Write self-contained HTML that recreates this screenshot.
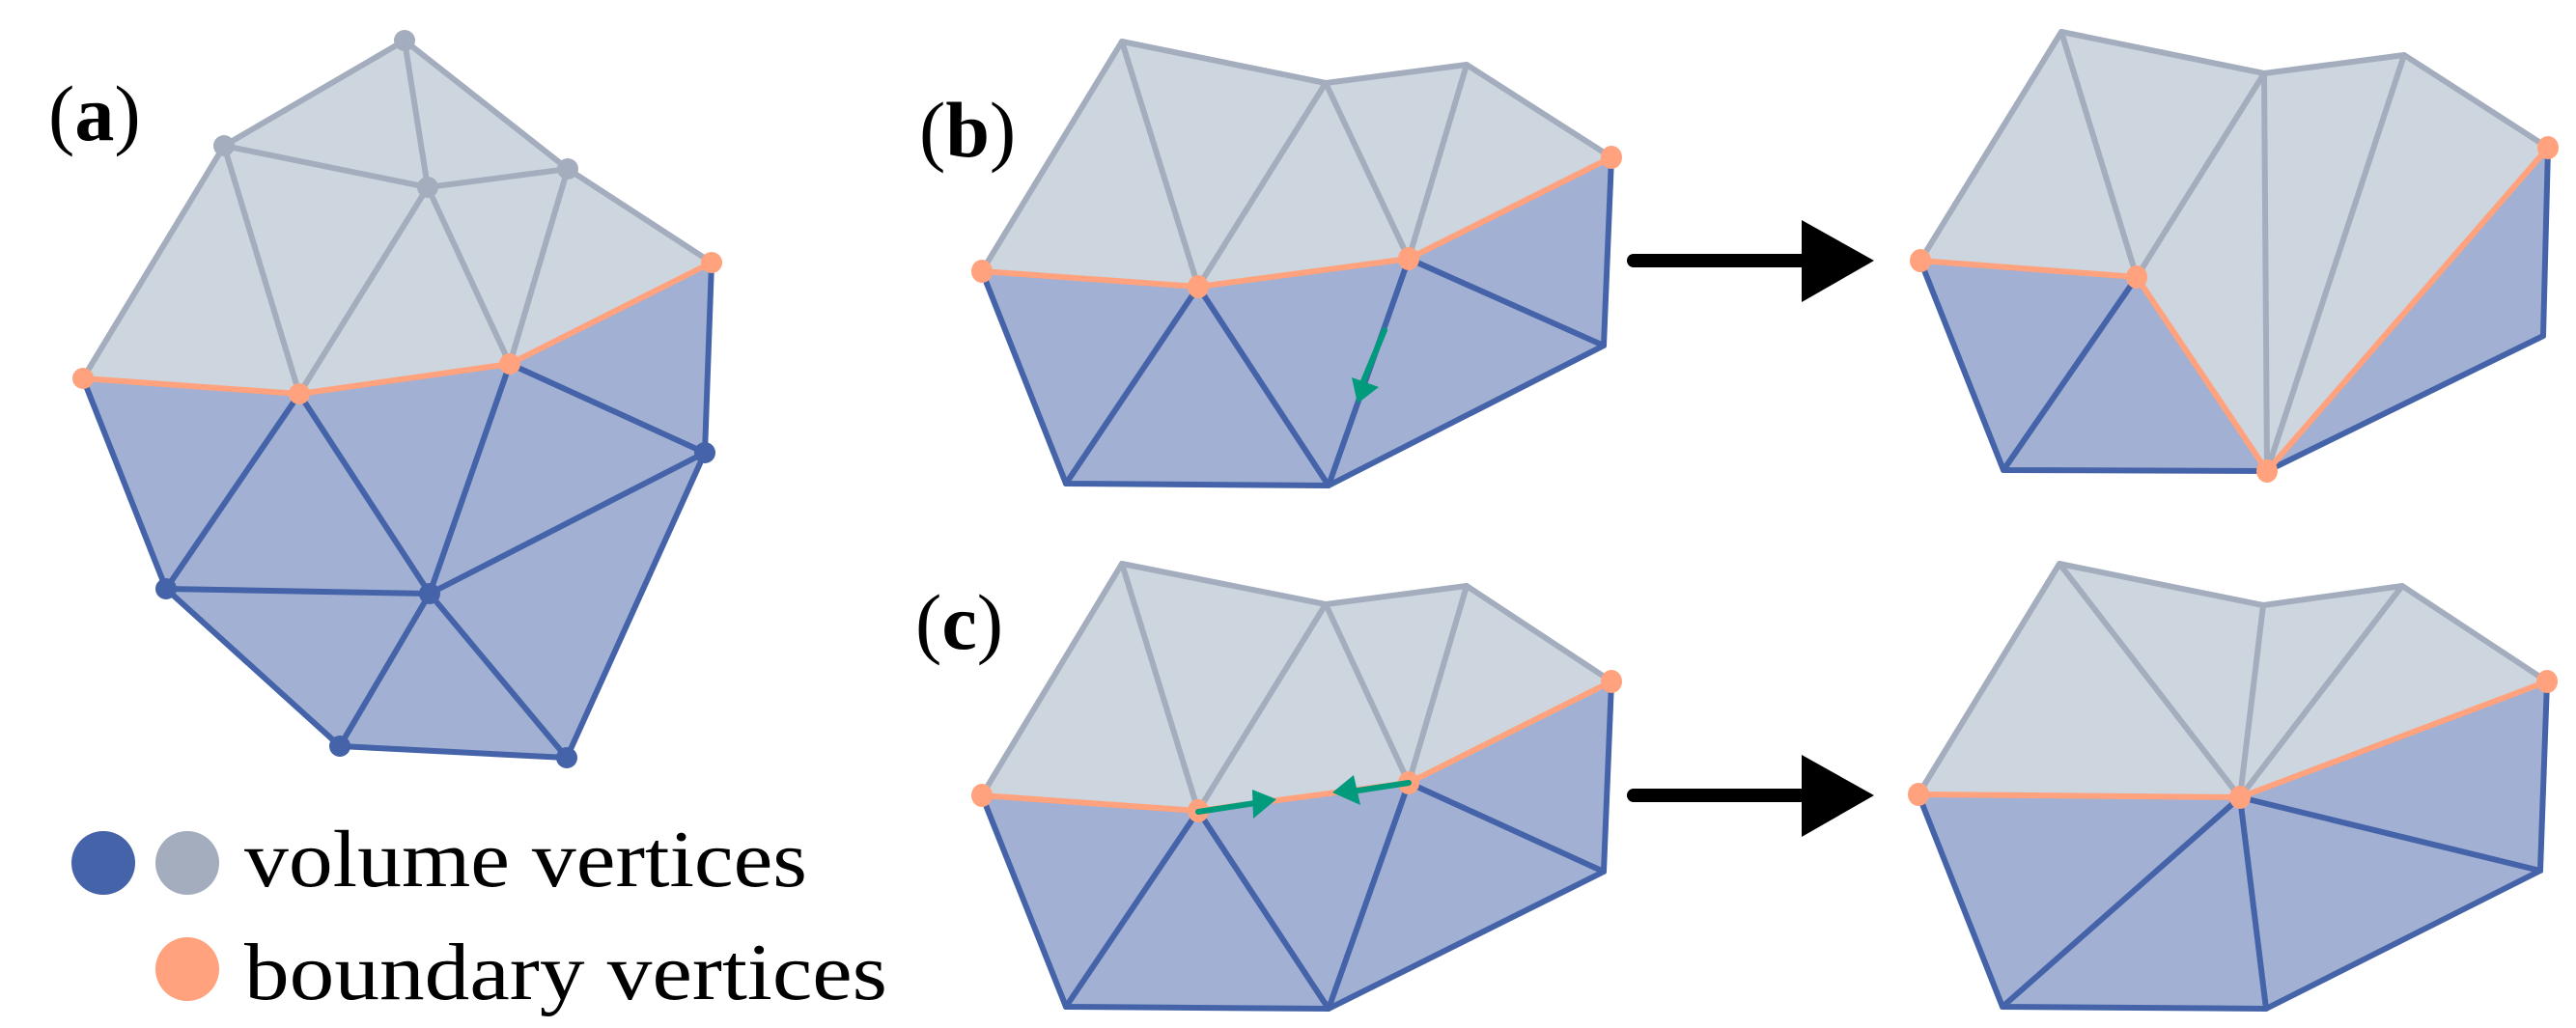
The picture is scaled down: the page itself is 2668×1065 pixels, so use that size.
<!DOCTYPE html>
<html><head><meta charset="utf-8"><style>html,body{margin:0;padding:0;background:#fff}svg{display:block}</style></head>
<body>
<svg width="2668" height="1065" viewBox="0 0 2668 1065" xmlns="http://www.w3.org/2000/svg">
<g stroke-linejoin="round" stroke-linecap="round">
<!-- Panel a -->
<polygon points="86,392 232,151 419,42 588,175 737,272 528,377 310,408" fill="#cdd5de"/>
<polygon points="86,392 310,408 528,377 737,272 730,469 587,785 352,773 172,610" fill="#a2b0d3"/>
<g stroke="#a3adbd" stroke-width="6" fill="none">
<polyline points="86,392 232,151 419,42 588,175 737,272"/>
<line x1="232" y1="151" x2="443" y2="194"/><line x1="419" y1="42" x2="443" y2="194"/><line x1="443" y1="194" x2="588" y2="175"/>
<line x1="232" y1="151" x2="310" y2="408"/><line x1="443" y1="194" x2="310" y2="408"/><line x1="443" y1="194" x2="528" y2="377"/><line x1="588" y1="175" x2="528" y2="377"/>
</g>
<g stroke="#4563a8" stroke-width="6" fill="none">
<polyline points="86,392 172,610 352,773 587,785 730,469 737,272"/>
<line x1="172" y1="610" x2="445" y2="615"/><line x1="310" y1="408" x2="172" y2="610"/><line x1="310" y1="408" x2="445" y2="615"/>
<line x1="528" y1="377" x2="445" y2="615"/><line x1="528" y1="377" x2="730" y2="469"/><line x1="445" y1="615" x2="730" y2="469"/>
<line x1="445" y1="615" x2="352" y2="773"/><line x1="445" y1="615" x2="587" y2="785"/>
</g>
<polyline points="86,392 310,408 528,377 737,272" stroke="#ffa27d" stroke-width="6" fill="none"/>
<g fill="#a3adbd"><circle cx="419" cy="42" r="11"/><circle cx="232" cy="151" r="11"/><circle cx="443" cy="194" r="11"/><circle cx="588" cy="175" r="11"/></g>
<g fill="#ffa27d"><circle cx="737" cy="272" r="11"/><circle cx="86" cy="392" r="11"/><circle cx="310" cy="408" r="11"/><circle cx="528" cy="377" r="11"/></g>
<g fill="#4563a8"><circle cx="730" cy="469" r="11"/><circle cx="172" cy="610" r="11"/><circle cx="445" cy="615" r="11"/><circle cx="352" cy="773" r="11"/><circle cx="587" cy="785" r="11"/></g>

<!-- Panel b left -->
<polygon points="1017,281 1162,43 1373,86 1519,67 1669,163 1459,268 1241,297" fill="#cdd5de"/>
<polygon points="1017,281 1241,297 1459,268 1669,163 1661,358 1376,503 1104,501" fill="#a2b0d3"/>
<g stroke="#a3adbd" stroke-width="6" fill="none">
<polyline points="1017,281 1162,43 1373,86 1519,67 1669,163"/>
<line x1="1162" y1="43" x2="1241" y2="297"/><line x1="1373" y1="86" x2="1241" y2="297"/><line x1="1373" y1="86" x2="1459" y2="268"/><line x1="1519" y1="67" x2="1459" y2="268"/>
</g>
<g stroke="#4563a8" stroke-width="6" fill="none">
<polyline points="1017,281 1104,501 1376,503 1661,358 1669,163"/>
<line x1="1241" y1="297" x2="1104" y2="501"/><line x1="1241" y1="297" x2="1376" y2="503"/><line x1="1459" y1="268" x2="1376" y2="503"/><line x1="1459" y1="268" x2="1661" y2="358"/>
</g>
<polyline points="1017,281 1241,297 1459,268 1669,163" stroke="#ffa27d" stroke-width="6" fill="none"/>
<g fill="#ffa27d"><ellipse cx="1017" cy="281" rx="11" ry="12"/><ellipse cx="1241" cy="297" rx="11" ry="12"/><ellipse cx="1459" cy="268" rx="11" ry="12"/><ellipse cx="1669" cy="163" rx="11" ry="12"/></g>
<line x1="1434" y1="342" x2="1412" y2="395" stroke="#009a7c" stroke-width="6"/>
<polygon points="1400,391 1428,401 1406,418" fill="#009a7c"/>

<!-- arrow b -->
<line x1="1692" y1="270" x2="1875" y2="270" stroke="#000" stroke-width="14"/>
<polygon points="1866,228 1866,313 1941,270" fill="#000"/>

<!-- Panel b right -->
<polygon points="1989,270 2135,33 2345,76 2490,57 2639,153 2348,488 2213,287" fill="#cdd5de"/>
<polygon points="1989,270 2213,287 2348,488 2075,487" fill="#a2b0d3"/>
<polygon points="2348,488 2639,153 2634,348" fill="#a2b0d3"/>
<g stroke="#a3adbd" stroke-width="6" fill="none">
<polyline points="1989,270 2135,33 2345,76 2490,57 2639,153"/>
<line x1="2135" y1="33" x2="2213" y2="287"/><line x1="2345" y1="76" x2="2213" y2="287"/><line x1="2345" y1="76" x2="2348" y2="488"/><line x1="2490" y1="57" x2="2348" y2="488"/>
</g>
<g stroke="#4563a8" stroke-width="6" fill="none">
<polyline points="1989,270 2075,487 2348,488 2634,348 2639,153"/>
<line x1="2213" y1="287" x2="2075" y2="487"/>
</g>
<polyline points="1989,270 2213,287 2348,488 2639,153" stroke="#ffa27d" stroke-width="6" fill="none"/>
<g fill="#ffa27d"><ellipse cx="1989" cy="270" rx="11" ry="12"/><ellipse cx="2213" cy="287" rx="11" ry="12"/><ellipse cx="2348" cy="488" rx="11" ry="12"/><ellipse cx="2639" cy="153" rx="11" ry="12"/></g>

<!-- Panel c left -->
<polygon points="1017,824 1162,584 1373,626 1519,607 1669,706 1459,811 1241,840" fill="#cdd5de"/>
<polygon points="1017,824 1241,840 1459,811 1669,706 1661,903 1376,1045 1104,1043" fill="#a2b0d3"/>
<g stroke="#a3adbd" stroke-width="6" fill="none">
<polyline points="1017,824 1162,584 1373,626 1519,607 1669,706"/>
<line x1="1162" y1="584" x2="1241" y2="840"/><line x1="1373" y1="626" x2="1241" y2="840"/><line x1="1373" y1="626" x2="1459" y2="811"/><line x1="1519" y1="607" x2="1459" y2="811"/>
</g>
<g stroke="#4563a8" stroke-width="6" fill="none">
<polyline points="1017,824 1104,1043 1376,1045 1661,903 1669,706"/>
<line x1="1241" y1="840" x2="1104" y2="1043"/><line x1="1241" y1="840" x2="1376" y2="1045"/><line x1="1459" y1="811" x2="1376" y2="1045"/><line x1="1459" y1="811" x2="1661" y2="903"/>
</g>
<polyline points="1017,824 1241,840 1459,811 1669,706" stroke="#ffa27d" stroke-width="6" fill="none"/>
<g fill="#ffa27d"><ellipse cx="1017" cy="824" rx="11" ry="12"/><ellipse cx="1241" cy="840" rx="11" ry="12"/><ellipse cx="1459" cy="811" rx="11" ry="12"/><ellipse cx="1669" cy="706" rx="11" ry="12"/></g>
<line x1="1241" y1="841" x2="1300" y2="832" stroke="#009a7c" stroke-width="6"/>
<polygon points="1297,818 1298,848 1322,828" fill="#009a7c"/>
<line x1="1459" y1="811" x2="1400" y2="820" stroke="#009a7c" stroke-width="6"/>
<polygon points="1402,803 1409,834 1380,821" fill="#009a7c"/>

<!-- arrow c -->
<line x1="1692" y1="824" x2="1875" y2="824" stroke="#000" stroke-width="14"/>
<polygon points="1866,782 1866,867 1941,824" fill="#000"/>

<!-- Panel c right -->
<polygon points="1987,823 2133,584 2344,627 2488,607 2638,706 2320,826" fill="#cdd5de"/>
<polygon points="1987,823 2320,826 2638,706 2631,902 2347,1045 2074,1043" fill="#a2b0d3"/>
<g stroke="#a3adbd" stroke-width="6" fill="none">
<polyline points="1987,823 2133,584 2344,627 2488,607 2638,706"/>
<line x1="2133" y1="584" x2="2320" y2="826"/><line x1="2344" y1="627" x2="2320" y2="826"/><line x1="2488" y1="607" x2="2320" y2="826"/>
</g>
<g stroke="#4563a8" stroke-width="6" fill="none">
<polyline points="1987,823 2074,1043 2347,1045 2631,902 2638,706"/>
<line x1="2320" y1="826" x2="2074" y2="1043"/><line x1="2320" y1="826" x2="2347" y2="1045"/><line x1="2320" y1="826" x2="2631" y2="902"/>
</g>
<polyline points="1987,823 2320,826 2638,706" stroke="#ffa27d" stroke-width="6" fill="none"/>
<g fill="#ffa27d"><ellipse cx="1987" cy="823" rx="11" ry="12"/><ellipse cx="2320" cy="826" rx="11" ry="12"/><ellipse cx="2638" cy="706" rx="11" ry="12"/></g>
</g>

<!-- Labels -->
<g font-family="'Liberation Serif', serif" fill="#000">
<text x="50" y="145" font-size="82"><tspan>(</tspan><tspan font-weight="bold">a</tspan><tspan>)</tspan></text>
<text x="952" y="162" font-size="82"><tspan>(</tspan><tspan font-weight="bold">b</tspan><tspan>)</tspan></text>
<text x="948" y="672" font-size="82"><tspan>(</tspan><tspan font-weight="bold">c</tspan><tspan>)</tspan></text>
<text x="253" y="918" font-size="84" textLength="583" lengthAdjust="spacingAndGlyphs">volume vertices</text>
<text x="253" y="1035" font-size="84" textLength="666" lengthAdjust="spacingAndGlyphs">boundary vertices</text>
</g>
<circle cx="107" cy="894" r="33" fill="#4563a8"/>
<circle cx="194" cy="894" r="33" fill="#a3adbd"/>
<circle cx="194" cy="1004" r="33" fill="#ffa27d"/>
</svg>
</body></html>
